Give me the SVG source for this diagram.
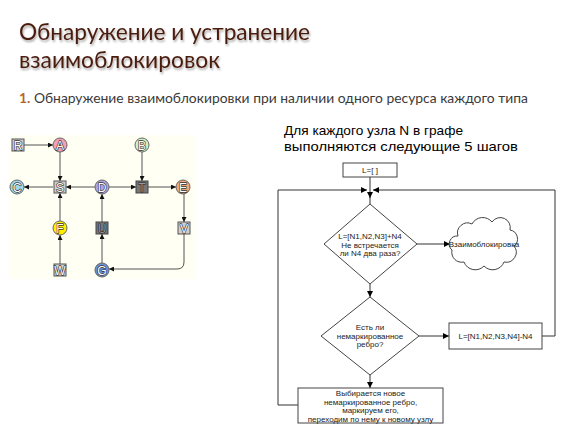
<svg xmlns="http://www.w3.org/2000/svg" width="567" height="445" viewBox="0 0 567 445">
<defs>
<marker id="ah" markerWidth="6" markerHeight="6" refX="6" refY="3" orient="auto" markerUnits="userSpaceOnUse"><path d="M0,0 L6,3 L0,6 Z" fill="#000"/></marker>
<marker id="ahs" markerWidth="5" markerHeight="5" refX="5" refY="2.5" orient="auto" markerUnits="userSpaceOnUse"><path d="M0,0 L5,2.5 L0,5 Z" fill="#111"/></marker>
<filter id="sh" x="-5%" y="-20%" width="110%" height="140%"><feGaussianBlur in="SourceAlpha" stdDeviation="1"/><feOffset dx="1" dy="1.5"/><feComponentTransfer><feFuncA type="linear" slope="0.35"/></feComponentTransfer><feMerge><feMergeNode/><feMergeNode in="SourceGraphic"/></feMerge></filter>
</defs>
<style>
.title{font-family:"Lato","Open Sans",sans-serif;font-size:24px;fill:#4a1c0c}
.sub{font-family:"Lato","Open Sans",sans-serif;font-size:13.5px;fill:#3a3a3a}
.gl{font-family:"Liberation Sans",Arial,sans-serif;font-size:12px;text-anchor:middle;fill:#fff;stroke:#333;stroke-width:1.3;paint-order:stroke;stroke-linejoin:round}
.gld{font-family:"Liberation Sans",Arial,sans-serif;font-size:12px;text-anchor:middle;fill:#999;stroke:#222;stroke-width:1.2;paint-order:stroke;stroke-linejoin:round}
.ge{stroke:#555;stroke-width:1;fill:none;marker-end:url(#ahs)}
.circ{stroke:#666;stroke-width:1}
.lbox{fill:#cfcfcf;stroke:#555;stroke-width:1}
.dbox{fill:#777;stroke:#444;stroke-width:1}
.fe{stroke:#333;stroke-width:1;fill:none}
.fa{stroke:#333;stroke-width:1;fill:none;marker-end:url(#ah)}
.fs{fill:#fff;stroke:#444;stroke-width:1}
.ft{font-family:"Liberation Sans",Arial,sans-serif;font-size:8px;text-anchor:middle;fill:#222}
.head{font-family:"Liberation Sans",Arial,sans-serif;font-size:13.5px;fill:#000}
</style>
<rect width="567" height="445" fill="#fff"/>
<g id="title" filter="url(#sh)">
<text class="title" x="19" y="40" textLength="291" lengthAdjust="spacingAndGlyphs">Обнаружение и устранение</text>
<text class="title" x="19" y="68" textLength="201" lengthAdjust="spacingAndGlyphs">взаимоблокировок</text>
</g>
<text class="sub" x="19" y="103" textLength="509" lengthAdjust="spacingAndGlyphs"><tspan fill="#b5652e" font-weight="bold">1.</tspan> Обнаружение взаимоблокировки при наличии одного ресурса каждого типа</text>

<rect x="9" y="135" width="187" height="144" fill="#fffff3"/>
<g id="graph-edges">
<line class="ge" x1="24" y1="145" x2="53" y2="145"/>
<line class="ge" x1="60" y1="152" x2="60" y2="181"/>
<line class="ge" x1="53" y1="187" x2="24" y2="187"/>
<line class="ge" x1="95" y1="187" x2="66" y2="187"/>
<line class="ge" x1="109" y1="187" x2="136" y2="187"/>
<line class="ge" x1="142" y1="152" x2="142" y2="181"/>
<line class="ge" x1="148" y1="187" x2="176" y2="187"/>
<line class="ge" x1="184" y1="194" x2="184" y2="222"/>
<path class="ge" d="M184,234 V262 Q184,269 177,269 H109"/>
<line class="ge" x1="102" y1="263" x2="102" y2="234"/>
<line class="ge" x1="102" y1="222" x2="102" y2="194"/>
<line class="ge" x1="60" y1="264" x2="60" y2="235"/>
<line class="ge" x1="60" y1="221" x2="60" y2="193"/>
</g>
<g id="R"><rect class="lbox" x="12" y="139" width="12" height="12"/><text class="gl" x="18" y="149.5">R</text></g>
<g id="A"><circle class="circ" cx="60" cy="145" r="7" fill="#f3a0b4"/><text class="gl" x="60" y="149.5">A</text></g>
<g id="B"><circle class="circ" cx="142" cy="145" r="7" fill="#cdf2c2"/><text class="gl" x="142" y="149.5">B</text></g>
<g id="C"><circle class="circ" cx="17" cy="187" r="7" fill="#9ed8ea"/><text class="gl" x="17" y="191.5">C</text></g>
<g id="S"><rect class="lbox" x="54" y="181" width="12" height="12"/><text class="gl" x="60" y="191.5">S</text></g>
<g id="D"><circle class="circ" cx="102" cy="187" r="7" fill="#b4a4d8"/><text class="gl" x="102" y="191.5">D</text></g>
<g id="T"><rect class="dbox" x="136" y="181" width="12" height="12"/><text class="gld" x="142" y="191.5">T</text></g>
<g id="E"><circle class="circ" cx="183" cy="187" r="7" fill="#f2a878"/><text class="gl" x="183" y="191.5">E</text></g>
<g id="F"><circle class="circ" cx="60" cy="228" r="7" fill="#fff000"/><text class="gl" x="60" y="232.5">F</text></g>
<g id="U"><rect class="dbox" x="96" y="222" width="12" height="12"/><text class="gld" x="102" y="232.5">U</text></g>
<g id="V"><rect class="lbox" x="178" y="222" width="12" height="12"/><text class="gl" x="184" y="232.5">V</text></g>
<g id="W"><rect class="lbox" x="54" y="264" width="12" height="12"/><text class="gl" x="60" y="274.5">W</text></g>
<g id="G"><circle class="circ" cx="102" cy="270" r="7" fill="#6a8fd6"/><text class="gl" x="102" y="274.5">G</text></g>

<text class="head" x="284" y="135" textLength="179" lengthAdjust="spacingAndGlyphs">Для каждого узла N в графе</text>
<text class="head" x="284" y="151" textLength="234" lengthAdjust="spacingAndGlyphs">выполняются следующие 5 шагов</text>

<g id="flow-connectors">
<line class="fe" x1="370" y1="177" x2="370" y2="190"/>
<line class="fa" x1="370" y1="190" x2="370" y2="198"/>
<line class="fe" x1="370" y1="197" x2="370" y2="204"/>
<polyline class="fa" points="298,405 278,405 278,190 367,190"/>
<polyline class="fa" points="542,336 555,336 555,190 373,190"/>
<line class="fa" x1="417" y1="244" x2="450" y2="244"/>
<line class="fa" x1="370" y1="284" x2="370" y2="297"/>
<line class="fa" x1="419" y1="336" x2="449" y2="336"/>
<line class="fa" x1="370" y1="375" x2="370" y2="388"/>
</g>
<g id="start"><rect class="fs" x="343" y="163" width="54" height="14"/><text class="ft" x="370" y="173">L=[ ]</text></g>
<g id="check"><polygon class="fs" points="370,204 417,244 370,284 324,244"/>
<text class="ft" x="370" y="239">L=[N1,N2,N3]+N4</text><text class="ft" x="370" y="247.5">Не встречается</text><text class="ft" x="370" y="256">ли N4 два раза?</text></g>
<g id="deadlock"><path class="fs" d="M458,236 a10,10 0 0 1 14,-12 a12,12 0 0 1 20,-2 a10,10 0 0 1 18,8 a9,9 0 0 1 4,16 a10,10 0 0 1 -10,16 a12,12 0 0 1 -20,4 a12,12 0 0 1 -20,-4 a10,10 0 0 1 -12,-12 a8,8 0 0 1 6,-14 Z"/>
<text class="ft" x="484" y="247">Взаимоблокировка</text></g>
<g id="unmarked"><polygon class="fs" points="370,297 419,336 370,375 321,336"/>
<text class="ft" x="370" y="330">Есть ли</text><text class="ft" x="370" y="338.5">немаркированное</text><text class="ft" x="370" y="347">ребро?</text></g>
<g id="backtrack"><rect class="fs" x="449" y="323" width="93" height="26"/><text class="ft" x="495.5" y="339">L=[N1,N2,N3,N4]-N4</text></g>
<g id="choose"><rect class="fs" x="298" y="388" width="145" height="35"/>
<text class="ft" x="370.5" y="396">Выбирается новое</text><text class="ft" x="370.5" y="404.5">немаркированное ребро,</text><text class="ft" x="370.5" y="413">маркируем его,</text><text class="ft" x="370.5" y="421.5">переходим по нему к новому узлу</text></g>
</svg>
